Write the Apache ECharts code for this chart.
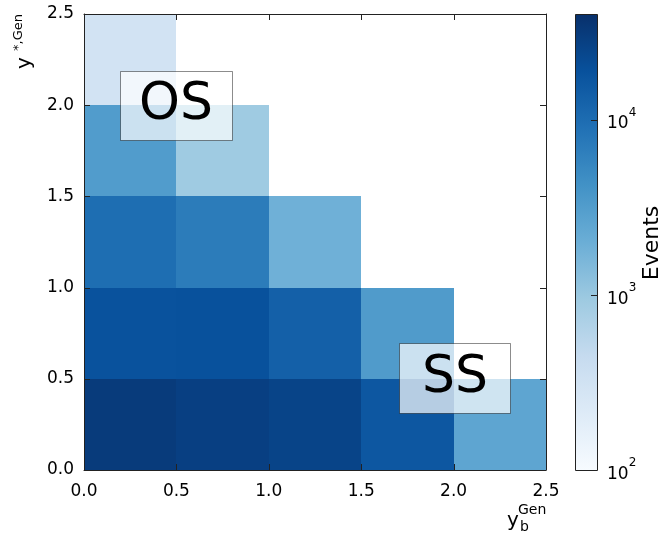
<!DOCTYPE html>
<html>
<head>
<meta charset="utf-8">
<script src="https://cdn.jsdelivr.net/npm/echarts@6/dist/echarts.min.js"></script>
<style>
  html, body { margin: 0; padding: 0; background: #fff; }
  #chart { width: 665px; height: 534px; }
</style>
</head>
<body>
<div id="chart"></div>
<script>
// Bin edges of the 2D histogram (y_b^Gen on x, y*,Gen on y)
const xBinEdges = [0.0, 0.5, 1.0, 1.5, 2.0, 2.5];
const yBinEdges = [0.0, 0.5, 1.0, 1.5, 2.0, 2.5];

// Event counts per bin: one row per y bin (bottom to top), one entry per x bin (left to right)
const eventsRow0 = [31400, 28200, 25600, 16500, 2550];
const eventsRow1 = [18500, 19000, 13400, 3300];
const eventsRow2 = [9640, 7020, 1890];
const eventsRow3 = [3230, 920];
const eventsRow4 = [312];
const eventRows = [eventsRow0, eventsRow1, eventsRow2, eventsRow3, eventsRow4];

// Axis ticks and colour scale
const axisTicks = [0.0, 0.5, 1.0, 1.5, 2.0, 2.5];
const colorMin = 100;
const colorMax = 40000;
const colorTickExponents = [2, 3, 4];

// Matplotlib "Blues" colour map
const blues = ['#f7fbff', '#deebf7', '#c6dbef', '#9ecae1', '#6baed6',
               '#4292c6', '#2171b5', '#08519c', '#08306b'];

const FONT = 'DejaVu Sans';
const INK = '#222';
const TICK_LEN = 6;

// Cells: [x0, y0, x1, y1, log10(count), count]
const cells = [];
eventRows.forEach((row, j) => {
  row.forEach((v, i) => {
    cells.push([xBinEdges[i], yBinEdges[j], xBinEdges[i + 1], yBinEdges[j + 1], Math.log10(v), v]);
  });
});

const logMin = Math.log10(colorMin);
const logMax = Math.log10(colorMax);
const axMin = axisTicks[0];
const axMax = axisTicks[axisTicks.length - 1];

function mainAxis(dim, pos, showLabels) {
  return {
    type: 'value',
    gridIndex: 0,
    position: pos,
    min: axMin,
    max: axMax,
    interval: axisTicks[1] - axisTicks[0],
    z: 10,
    axisLine: { show: true, onZero: false, lineStyle: { color: INK, width: 1 } },
    axisTick: { show: false },
    axisLabel: {
      show: showLabels,
      formatter: v => v.toFixed(1),
      fontFamily: FONT,
      fontSize: 17,
      color: '#000',
      margin: dim === 'x' ? 13 : 10
    },
    splitLine: { show: false }
  };
}

function tickLine(x1, y1, x2, y2) {
  return { type: 'line', shape: { x1, y1, x2, y2 }, style: { stroke: INK, lineWidth: 1 } };
}

function snapRect(p0, p1) {
  const x0 = Math.round(p0[0]), x1 = Math.round(p1[0]);
  const yb = Math.round(p0[1]), yt = Math.round(p1[1]);
  return { x: x0, y: yt, width: x1 - x0, height: yb - yt };
}

const option = {
  animation: false,
  backgroundColor: '#fff',
  grid: [
    { left: 84, right: 119, top: 14, bottom: 64 },
    { left: 575, width: 22, top: 14, bottom: 64 }
  ],
  xAxis: [
    mainAxis('x', 'bottom', true),
    mainAxis('x', 'top', false),
    { type: 'value', gridIndex: 1, min: 0, max: 1, show: false }
  ],
  yAxis: [
    mainAxis('y', 'left', true),
    mainAxis('y', 'right', false),
    {
      type: 'value',
      gridIndex: 1,
      position: 'right',
      min: logMin,
      max: logMax,
      interval: 1,
      z: 10,
      axisLine: { show: false },
      axisTick: { show: false },
      axisLabel: {
        margin: 10,
        formatter: v => {
          const e = Math.round(v);
          if (Math.abs(v - e) > 1e-6 || colorTickExponents.indexOf(e) < 0) return '';
          return '{b|10}{s|' + e + '}';
        },
        rich: {
          b: { fontFamily: FONT, fontSize: 17, color: '#000', verticalAlign: 'bottom', lineHeight: 26 },
          s: { fontFamily: FONT, fontSize: 12, color: '#000', verticalAlign: 'top', lineHeight: 26 }
        }
      },
      splitLine: { show: false }
    }
  ],
  visualMap: {
    type: 'continuous',
    show: false,
    seriesIndex: 0,
    dimension: 4,
    min: logMin,
    max: logMax,
    inRange: { color: blues }
  },
  series: [
    {
      // histogram cells
      type: 'custom',
      xAxisIndex: 0,
      yAxisIndex: 0,
      data: cells,
      encode: { x: [0, 2], y: [1, 3] },
      renderItem: (params, api) => {
        const p0 = api.coord([api.value(0), api.value(1)]);
        const p1 = api.coord([api.value(2), api.value(3)]);
        return {
          type: 'rect',
          shape: snapRect(p0, p1),
          style: { fill: api.visual('color') }
        };
      }
    },
    {
      // inward ticks on all four sides of the frame
      type: 'custom',
      xAxisIndex: 0,
      yAxisIndex: 0,
      z: 5,
      data: axisTicks.map(v => [v]),
      encode: { x: 0 },
      renderItem: (params, api) => {
        const v = api.value(0);
        const b = api.coord([v, axMin]);
        const t = api.coord([v, axMax]);
        const l = api.coord([axMin, v]);
        const r = api.coord([axMax, v]);
        const X = Math.round(b[0]) + 0.5;
        const Y = Math.round(l[1]) + 0.5;
        return {
          type: 'group',
          children: [
            tickLine(X, b[1], X, b[1] - TICK_LEN),
            tickLine(X, t[1], X, t[1] + TICK_LEN),
            tickLine(l[0], Y, l[0] + TICK_LEN, Y),
            tickLine(r[0], Y, r[0] - TICK_LEN, Y)
          ]
        };
      }
    },
    {
      // colour bar
      type: 'custom',
      xAxisIndex: 2,
      yAxisIndex: 2,
      data: [[0, logMin, 1, logMax]],
      encode: { x: [0, 2], y: [1, 3] },
      renderItem: (params, api) => {
        const s = snapRect(api.coord([api.value(0), api.value(1)]), api.coord([api.value(2), api.value(3)]));
        return {
          type: 'rect',
          shape: { x: s.x + 0.5, y: s.y + 0.5, width: s.width, height: s.height },
          style: {
            fill: {
              type: 'linear', x: 0, y: 1, x2: 0, y2: 0,
              colorStops: blues.map((c, k) => ({ offset: k / (blues.length - 1), color: c }))
            },
            stroke: INK,
            lineWidth: 1
          }
        };
      }
    },
    {
      // colour bar ticks (inside, on the right edge)
      type: 'custom',
      xAxisIndex: 2,
      yAxisIndex: 2,
      z: 5,
      data: colorTickExponents.map(e => [1, e]),
      encode: { x: 0, y: 1 },
      renderItem: (params, api) => {
        const p = api.coord([api.value(0), api.value(1)]);
        const Y = Math.round(p[1]) + 0.5;
        return tickLine(p[0], Y, p[0] - TICK_LEN, Y);
      }
    }
  ],
  graphic: [
    // axis titles
    { type: 'text', x: 25, y: 69, rotation: Math.PI / 2, z: 100,
      style: { text: 'y', fontFamily: FONT, fontSize: 20, fill: '#000', align: 'left', verticalAlign: 'middle' } },
    { type: 'text', x: 19, y: 51, rotation: Math.PI / 2, z: 100,
      style: { text: '*,Gen', fontFamily: FONT, fontSize: 13, fill: '#000', align: 'left', verticalAlign: 'middle' } },
    { type: 'text', x: 507, y: 521, z: 100,
      style: { text: 'y', fontFamily: FONT, fontSize: 20, fill: '#000', align: 'left', verticalAlign: 'middle' } },
    { type: 'text', x: 520, y: 527, z: 100,
      style: { text: 'b', fontFamily: FONT, fontSize: 14, fill: '#000', align: 'left', verticalAlign: 'middle' } },
    { type: 'text', x: 518, y: 510, z: 100,
      style: { text: 'Gen', fontFamily: FONT, fontSize: 14, fill: '#000', align: 'left', verticalAlign: 'middle' } },
    { type: 'text', x: 652, y: 243, rotation: Math.PI / 2, z: 100,
      style: { text: 'Events', fontFamily: FONT, fontSize: 22, fill: '#000', align: 'center', verticalAlign: 'middle' } },
    // region labels
    { type: 'rect', z: 100, shape: { x: 120.5, y: 71.5, width: 112, height: 69 },
      style: { fill: 'rgba(255,255,255,0.7)', stroke: 'rgba(0,0,0,0.45)', lineWidth: 1 } },
    { type: 'text', x: 176, y: 105, z: 101,
      style: { text: 'OS', fontFamily: FONT, fontSize: 52, fill: '#000', align: 'center', verticalAlign: 'middle' } },
    { type: 'rect', z: 100, shape: { x: 399.5, y: 343.5, width: 111, height: 70 },
      style: { fill: 'rgba(255,255,255,0.7)', stroke: 'rgba(0,0,0,0.45)', lineWidth: 1 } },
    { type: 'text', x: 455, y: 378, z: 101,
      style: { text: 'SS', fontFamily: FONT, fontSize: 52, fill: '#000', align: 'center', verticalAlign: 'middle' } }
  ]
};

const chart = echarts.init(document.getElementById('chart'), null, { renderer: 'canvas' });
chart.setOption(option);
</script>
</body>
</html>
